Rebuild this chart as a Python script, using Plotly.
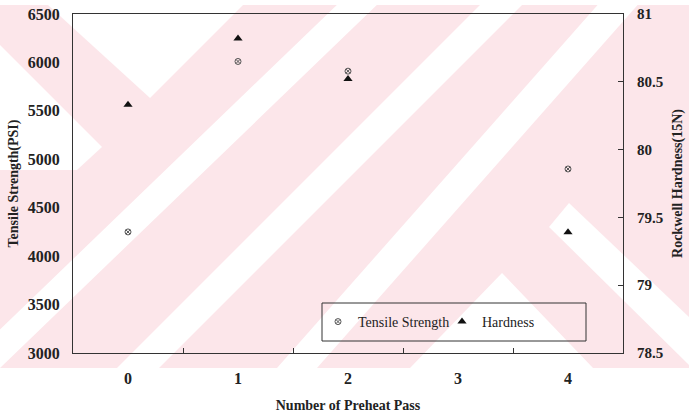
import plotly.graph_objects as go

# Preheat pass count vs. tensile strength and Rockwell hardness
passes_tensile = [0, 1, 2, 4]
tensile_psi = [4250, 6010, 5910, 4900]
passes_hardness = [0, 1, 2, 4]
hardness_15n = [80.33, 80.82, 80.52, 79.39]
x_tick_labels = ["0", "1", "2", "3", "4"]

W, H = 689, 413
ML, MR, MT, MB = 73, 66, 14, 60
PW, PH = W - ML - MR, H - MT - MB

SERIF = "Liberation Serif, Times New Roman, serif"
PINK = "#fce6ea"


def px_to_paper(px, py):
    return (px - ML) / PW, (H - MB - py) / PH


def poly(points, color):
    pts = [px_to_paper(x, y) for x, y in points]
    path = "M " + " L ".join(f"{x:.4f},{y:.4f}" for x, y in pts) + " Z"
    return dict(type="path", xref="paper", yref="paper", path=path,
                fillcolor=color, line=dict(width=0), layer="below")


def band(x_bot, x_top, half, y_bot=368, y_top=5, color="white"):
    # diagonal stripe given by its centre line from the bottom to the top edge
    def cx(y):
        return x_bot + (x_top - x_bot) * (368 - y) / 368
    return poly([(cx(y_bot) - half, y_bot), (cx(y_bot) + half, y_bot),
                 (cx(y_top) + half, y_top), (cx(y_top) - half, y_top)], color)


# background print pattern: pink field with white diagonal stripes
shapes = [
    poly([(0, 5), (W, 5), (W, 368), (0, 368)], PINK),
    poly([(48, 5), (243, 5), (150, 98)], "white"),
    poly([(0, 45), (102, 147), (77, 170), (0, 170)], "white"),
    band(-20, 362, 20),
    band(138, 506, 21),
    band(297, 622, 20),
    poly([(549, 227), (569, 203), (W, 317), (W, 365)], "white"),
    poly([(410, 368), (502, 273), (593, 368)], "white"),
]

# legend frame
lx0, ly0 = px_to_paper(322, 341)
lx1, ly1 = px_to_paper(586, 303)
shapes.append(dict(type="rect", xref="paper", yref="paper",
                   x0=lx0, y0=ly0, x1=lx1, y1=ly1,
                   line=dict(color="#333333", width=1), fillcolor="rgba(0,0,0,0)",
                   layer="above"))

fig = go.Figure()
fig.add_trace(go.Scatter(
    x=passes_tensile, y=tensile_psi, mode="markers", name="Tensile Strength",
    marker=dict(symbol="circle-x-open", size=6, color="#555555",
                line=dict(width=1, color="#555555")),
    yaxis="y",
))
fig.add_trace(go.Scatter(
    x=passes_hardness, y=hardness_15n, mode="markers", name="Hardness",
    marker=dict(symbol="triangle-up", size=8, color="#111111"),
    yaxis="y2",
))

tick_font = dict(family=SERIF, size=16, color="#222222", weight="bold")
tick_font_r = dict(family=SERIF, size=15, color="#222222", weight="bold")
title_font = dict(family=SERIF, size=14, color="#222222", weight="bold")

fig.update_layout(
    width=W, height=H,
    margin=dict(l=ML, r=MR, t=MT, b=MB, pad=0, autoexpand=False),
    paper_bgcolor="white",
    plot_bgcolor="rgba(0,0,0,0)",
    showlegend=True,
    shapes=shapes,
    legend=dict(
        orientation="h", x=px_to_paper(318, 0)[0], y=px_to_paper(0, 322)[1],
        xanchor="left", yanchor="middle",
        bgcolor="rgba(0,0,0,0)", borderwidth=0,
        font=dict(family=SERIF, size=14, color="#222222"),
        itemwidth=30, entrywidth=79, entrywidthmode="pixels",
    ),
    xaxis=dict(
        range=[-0.5, 4.5], tickvals=[0, 1, 2, 3, 4], ticktext=x_tick_labels,
        ticks="", showgrid=False, zeroline=False, automargin=False,
        showline=True, linecolor="#333333", linewidth=1, mirror=True,
        tickfont=tick_font, ticklabelstandoff=11,
        minor=dict(tickvals=[0.5, 1.5, 2.5, 3.5], ticks="inside", ticklen=5,
                   tickcolor="#333333", showgrid=False),
        title=dict(text="Number of Preheat Pass", font=title_font, standoff=31),
    ),
    yaxis=dict(
        range=[3000, 6500], dtick=500, showgrid=False, zeroline=False,
        automargin=False,
        showline=True, linecolor="#333333", linewidth=1, mirror=True,
        ticks="", tickfont=tick_font, ticklabelstandoff=9,
        title=dict(text="Tensile Strength(PSI)", font=title_font, standoff=5),
    ),
    yaxis2=dict(
        range=[78.5, 81], dtick=0.5, overlaying="y", side="right",
        showgrid=False, zeroline=False, showline=False, automargin=False,
        ticks="inside", ticklen=5, tickcolor="#333333",
        tickfont=tick_font_r, ticklabelstandoff=13,
        title=dict(text="Rockwell Hardness(15N)", font=title_font, standoff=9),
    ),
)

fig.write_html("out.html")
